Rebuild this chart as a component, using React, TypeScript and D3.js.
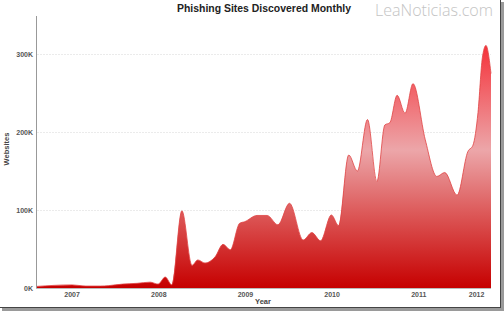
import React from "react";
import * as d3 from "d3";

// month index 0 = Aug 2006
const months = [0, 5, 6.9, 8.9, 10, 12, 14, 15.8, 16.9, 17.9, 18.8, 20.2, 21.6, 22.4, 23.4, 24.8, 25.9, 26.9, 28.2, 28.9, 30.6, 32, 33.5, 35.1, 37, 38.2, 39.4, 40.9, 41.9, 43.3, 44.5, 45.9, 47.2, 48.3, 49, 50, 51.1, 52.2, 53.9, 55.5, 56.6, 58.3, 59.8, 60.5, 61.2, 61.8, 62.3, 63];
const sites = [2000, 4000, 2500, 2500, 3000, 5000, 6000, 7500, 5000, 14000, 4000, 99000, 29000, 36000, 32000, 40000, 56000, 49000, 83000, 85000, 93000, 93000, 81000, 108600, 61500, 71000, 60600, 93600, 80000, 170500, 150000, 216000, 136700, 209000, 212000, 247000, 224000, 262000, 190000, 143000, 148000, 119000, 175000, 183000, 225000, 295000, 311000, 275000];

const yearLabels = ["2007", "2008", "2009", "2010", "2011", "2012"];
const yearTickMonths = [5, 17, 29, 41, 53, 61];
const yTicks = [0, 100000, 200000, 300000];

const title = "Phishing Sites Discovered Monthly";
const watermark = "LeaNoticias.com";

export default function App() {
  const W = 504, H = 313;
  const x = d3.scaleLinear().domain([0, 63]).range([36, 491]);
  const y = d3.scaleLinear().domain([0, 300000]).range([288, 54]);
  const pts = months.map((m, i) => [m, sites[i]] as [number, number]);
  const area = d3.area<[number, number]>()
    .x(d => x(d[0])).y0(y(0)).y1(d => y(d[1]))
    .curve(d3.curveMonotoneX);
  const line = d3.line<[number, number]>()
    .x(d => x(d[0])).y(d => y(d[1]))
    .curve(d3.curveMonotoneX);
  const font = "'Liberation Sans', Arial, sans-serif";
  return (
    <svg width={W} height={H} style={{ position: "absolute", left: 0, top: 0, background: "#fff" }}>
      <defs>
        <linearGradient id="g" gradientUnits="userSpaceOnUse" x1="0" y1={y(310000)} x2="0" y2={y(0)}>
          <stop offset="0" stopColor="#f5333b" />
          <stop offset="0.43" stopColor="#eca6a9" />
          <stop offset="0.7" stopColor="#dc5656" />
          <stop offset="1" stopColor="#c60000" />
        </linearGradient>
      </defs>
      <rect x={0} y={0} width={W} height={H} fill="#fff" />
      {/* frame shadow */}
      <rect x={501} y={2} width={3} height={308} fill="#9a9a9a" />
      <rect x={2} y={308} width={502} height={3} fill="#9a9a9a" />
      <line x1={500.5} y1={0} x2={500.5} y2={307.5} stroke="#444" strokeWidth={1} />
      <line x1={0} y1={307.5} x2={501} y2={307.5} stroke="#444" strokeWidth={1} />

      {yTicks.slice(1).map(t => (
        <line key={t} x1={37} x2={491} y1={Math.round(y(t)) + 0.5} y2={Math.round(y(t)) + 0.5}
          stroke="#ebebeb" strokeWidth={1} strokeDasharray="2,1" />
      ))}
      <path d={area(pts) || ""} fill="url(#g)" />
      <path d={line(pts) || ""} fill="none" stroke="#e04444" strokeWidth={0.8} />

      <line x1={36.5} y1={16} x2={36.5} y2={288.5} stroke="#999" strokeWidth={1} />
      <line x1={36} y1={288.5} x2={491} y2={288.5} stroke="#bbb" strokeWidth={1} />

      {yTicks.map(t => (
        <text key={t} x={33} y={y(t) + 2.5} textAnchor="end" fontFamily={font} fontSize={7}
          fontWeight="bold" fill="#555">{`${t / 1000}K`}</text>
      ))}
      {yearLabels.map((l, i) => (
        <text key={l} x={x(yearTickMonths[i])} y={297} textAnchor="middle" fontFamily={font}
          fontSize={7} fontWeight="bold" fill="#555">{l}</text>
      ))}
      <text x={263} y={304} textAnchor="middle" fontFamily={font} fontSize={7.5} fontWeight="bold" fill="#444">Year</text>
      <text transform="translate(9,149) rotate(-90)" textAnchor="middle" fontFamily={font} fontSize={7.5}
        fontWeight="bold" fill="#444">Websites</text>

      <text x={264} y={12} textAnchor="middle" fontFamily={font} fontSize={10} fontWeight="bold"
        fill="#222" textLength={174} lengthAdjust="spacingAndGlyphs">{title}</text>
      <text x={434} y={16} textAnchor="middle" fontFamily="'Open Sans', 'Liberation Sans', sans-serif"
        fontSize={16} fontWeight={300} fill="#c4c4c4" textLength={118} lengthAdjust="spacingAndGlyphs">{watermark}</text>
    </svg>
  );
}
